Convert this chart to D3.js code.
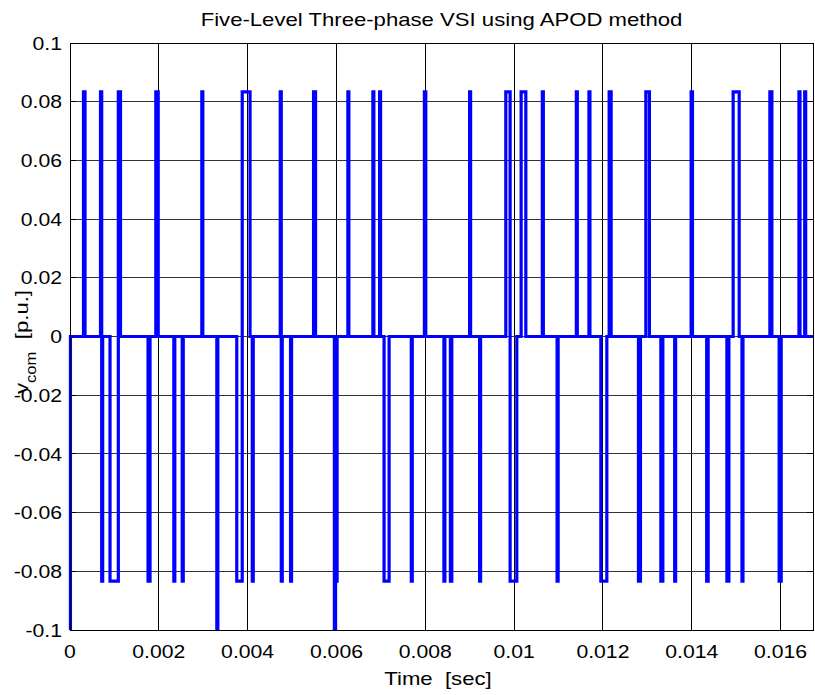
<!DOCTYPE html>
<html>
<head>
<meta charset="utf-8">
<script src="https://cdn.jsdelivr.net/npm/d3@7"></script>
<style>
  body { margin: 0; background: #fff; }
  text { font-family: "Liberation Sans", Arial, sans-serif; fill: #000; }
</style>
</head>
<body>
<div id="viz_container"></div>
<script>
// pulse edges (seconds) and level in units of Vdc/12
const pulseStart = [0.000304, 0.000687, 0.000714, 0.000901, 0.001088, 0.001757, 0.001932, 0.002338, 0.002527, 0.002968,
  0.003306, 0.003755, 0.003878, 0.004104, 0.004734, 0.004757, 0.004966, 0.005484, 0.005953, 0.005980,
  0.006257, 0.006820, 0.006971, 0.007072, 0.007685, 0.007980, 0.008419, 0.008565, 0.008998, 0.009223,
  0.009813, 0.009910, 0.010158, 0.010635, 0.010968, 0.011401, 0.011685, 0.011953, 0.012140, 0.012800,
  0.012966, 0.013304, 0.013615, 0.013986, 0.014336, 0.014791, 0.014932, 0.015131, 0.015759, 0.015968,
  0.016414, 0.016543];
const pulseEnd = [0.000338, 0.000714, 0.000736, 0.001088, 0.001137, 0.001802, 0.001986, 0.002360, 0.002550, 0.002991,
  0.003329, 0.003878, 0.004054, 0.004126, 0.004757, 0.004779, 0.004989, 0.005529, 0.005980, 0.006014,
  0.006279, 0.006842, 0.006993, 0.007185, 0.007707, 0.008011, 0.008441, 0.008597, 0.009020, 0.009245,
  0.009910, 0.010061, 0.010264, 0.010658, 0.010991, 0.011423, 0.011707, 0.012088, 0.012185, 0.012845,
  0.013047, 0.013349, 0.013637, 0.014016, 0.014369, 0.014836, 0.015068, 0.015153, 0.015804, 0.016014,
  0.016437, 0.016565];
const pulseLevel = [1, 1, -1, -1, 1, -1, 1, -1, -1, 1,
  -1.2, -1, 1, -1, 1, -1, -1, 1, -1.2, -1,
  1, 1, 1, -1, -1, 1, -1, -1, 1, -1,
  1, -1, 1, 1, -1, 1, 1, -1, 1, -1,
  1, -1, -1, 1, -1, -1, 1, -1, 1, -1,
  1, 1];
const startValue = -0.1;
const stepUnit = 0.1 / 1.2;
const tEnd = 0.01673;

const xTicks = [0, 0.002, 0.004, 0.006, 0.008, 0.01, 0.012, 0.014, 0.016];
const yTicks = [0.1, 0.08, 0.06, 0.04, 0.02, 0, -0.02, -0.04, -0.06, -0.08, -0.1];

const width = 815, height = 695;
const margin = {left: 70, right: 2, top: 43, bottom: 65};
// the reference text is a bit wider than plain Arial
const stretch = 1.19, tickStretch = 1.14;

const svg = d3.select("#viz_container")
  .append("svg")
  .attr("width", width)
  .attr("height", height);

const x = d3.scaleLinear().domain([0, tEnd]).range([margin.left, width - margin.right]);
const y = d3.scaleLinear().domain([-0.1, 0.1]).range([height - margin.bottom, margin.top]);

// build the staircase from the pulses
const pts = [[0, startValue], [0.00001, startValue], [0.00001, 0]];
pulseStart.forEach((s, i) => {
  const v = pulseLevel[i] * stepUnit;
  pts.push([s, 0], [s, v], [pulseEnd[i], v], [pulseEnd[i], 0]);
});
pts.push([tEnd, 0]);

// grid
const grid = svg.append("g").attr("stroke", "#000").attr("stroke-width", 1).attr("shape-rendering", "crispEdges");
grid.selectAll(".gx").data(xTicks).join("line")
  .attr("x1", d => x(d)).attr("x2", d => x(d))
  .attr("y1", y(0.1)).attr("y2", y(-0.1));
grid.selectAll(".gy").data(yTicks).join("line")
  .attr("x1", x(0)).attr("x2", x(tEnd))
  .attr("y1", d => y(d)).attr("y2", d => y(d))
  .attr("stroke", "#333");

// ticks on all four sides (inside)
const tk = svg.append("g").attr("stroke", "#000").attr("stroke-width", 1).attr("shape-rendering", "crispEdges");
xTicks.forEach(d => {
  tk.append("line").attr("x1", x(d)).attr("x2", x(d)).attr("y1", y(-0.1)).attr("y2", y(-0.1) - 6);
  tk.append("line").attr("x1", x(d)).attr("x2", x(d)).attr("y1", y(0.1)).attr("y2", y(0.1) + 6);
});
yTicks.forEach(d => {
  tk.append("line").attr("x1", x(0)).attr("x2", x(0) + 6).attr("y1", y(d)).attr("y2", y(d));
  tk.append("line").attr("x1", x(tEnd)).attr("x2", x(tEnd) - 6).attr("y1", y(d)).attr("y2", y(d));
});

// clip + signal
svg.append("clipPath").attr("id", "clip")
  .append("rect")
  .attr("x", x(0) - 2).attr("y", y(0.1))
  .attr("width", x(tEnd) - x(0) + 2).attr("height", y(-0.1) - y(0.1));

const line = d3.line().x(d => x(d[0])).y(d => y(d[1]));
svg.append("path")
  .datum(pts)
  .attr("clip-path", "url(#clip)")
  .attr("fill", "none")
  .attr("stroke", "#0000ff")
  .attr("stroke-width", 3.2)
  .attr("stroke-linejoin", "miter")
  .attr("d", line);

// frame
svg.append("rect")
  .attr("x", x(0)).attr("y", y(0.1))
  .attr("width", x(tEnd) - x(0)).attr("height", y(-0.1) - y(0.1))
  .attr("fill", "none").attr("stroke", "#000").attr("stroke-width", 1)
  .attr("shape-rendering", "crispEdges");

// tick labels
svg.selectAll(".xl").data(xTicks).join("text")
  .attr("transform", d => `translate(${x(d)},${y(-0.1) + 28}) scale(${tickStretch},1)`)
  .attr("text-anchor", "middle")
  .style("font-size", "18.6px")
  .text(d => d3.format("")(d));
svg.selectAll(".yl").data(yTicks).join("text")
  .attr("transform", d => `translate(${x(0) - 8},${y(d) + 6.6}) scale(${tickStretch},1)`)
  .attr("text-anchor", "end")
  .style("font-size", "18.6px")
  .text(d => d3.format("")(d).replace("−", "-"));

// title and axis labels
svg.append("text")
  .attr("transform", `translate(${(x(0) + x(tEnd)) / 2},26) scale(${stretch},1)`)
  .attr("text-anchor", "middle")
  .style("font-size", "18.6px")
  .text("Five-Level Three-phase VSI using APOD method");

svg.append("text")
  .attr("transform", `translate(438,685) scale(${stretch},1)`)
  .attr("text-anchor", "middle")
  .style("font-size", "18.6px")
  .attr("xml:space", "preserve")
  .text("Time  [sec]");

const yl = svg.append("text")
  .attr("transform", `translate(28,290) rotate(-90) scale(${stretch},1)`)
  .attr("text-anchor", "end")
  .style("font-size", "18.6px")
  .attr("xml:space", "preserve");
yl.append("tspan").text("v");
yl.append("tspan").attr("dy", 8).style("font-size", "14px").text("com");
yl.append("tspan").attr("dy", -8).text("  [p.u.]");
</script>
</body>
</html>
